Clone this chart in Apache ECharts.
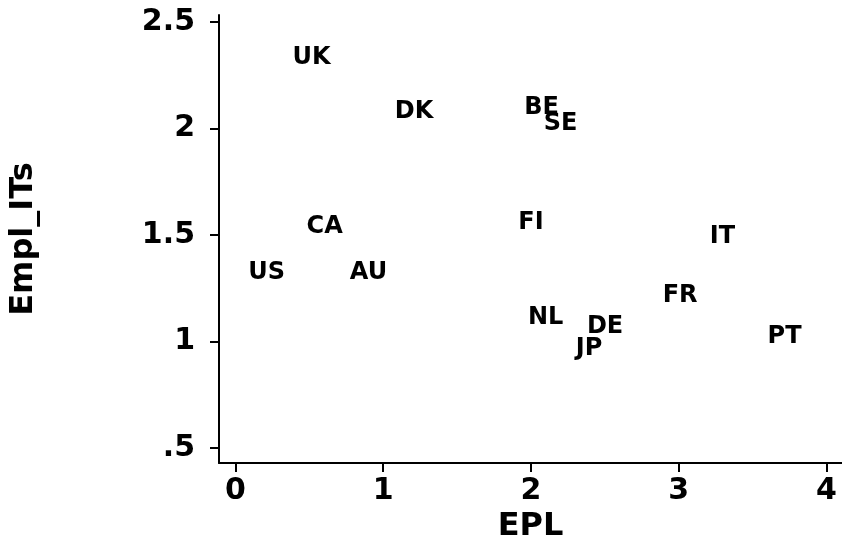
<!DOCTYPE html>
<html>
<head>
<meta charset="utf-8">
<script src="https://cdn.jsdelivr.net/npm/echarts@6/dist/echarts.min.js"></script>
<style>
html,body{margin:0;padding:0;background:#fff;}
#chart{width:842px;height:544px;}
</style>
</head>
<body>
<div id="chart"></div>
<script>
const countries = ['UK','DK','BE','SE','CA','FI','IT','US','AU','FR','NL','DE','JP','PT'];
const eplValues = [0.515,1.209,2.072,2.20,0.603,2.0,3.297,0.21,0.90,3.01,2.099,2.502,2.393,3.717];
const emplValues = [2.34,2.089,2.108,2.033,1.547,1.568,1.50,1.331,1.331,1.225,1.122,1.077,0.974,1.031];
const xTicks = [0,1,2,3,4];
const yTicks = [0.5,1,1.5,2,2.5];
const yTickLabels = ['.5','1','1.5','2','2.5'];

const font = 'DejaVu Sans';
const chart = echarts.init(document.getElementById('chart'));
const points = countries.map((c,i)=>({name:c, value:[eplValues[i], emplValues[i]]}));

chart.setOption({
  backgroundColor:'#fff',
  animation:false,
  grid:{left:219, right:0, top:15, bottom:81, containLabel:false, outerBoundsMode:'none'},
  xAxis:{
    type:'value', min:-0.112, max:4.106,
    name:'EPL', nameLocation:'middle', nameGap:46,
    nameTextStyle:{fontFamily:font, fontWeight:'bold', fontSize:32, color:'#000'},
    axisLine:{show:true, onZero:false, lineStyle:{color:'#000', width:2}},
    axisTick:{show:true, length:9, customValues:xTicks, lineStyle:{color:'#000', width:2}},
    axisLabel:{customValues:xTicks, margin:13, fontFamily:font, fontWeight:'bold', fontSize:30, color:'#000'},
    splitLine:{show:false}
  },
  yAxis:{
    type:'value', min:0.4296, max:2.533,
    name:'Empl_ITs', nameLocation:'middle', nameGap:179, nameRotate:90,
    nameTextStyle:{fontFamily:font, fontWeight:'bold', fontSize:32, color:'#000'},
    axisLine:{show:true, onZero:false, lineStyle:{color:'#000', width:2}},
    axisTick:{show:true, length:9, customValues:yTicks, lineStyle:{color:'#000', width:2}},
    axisLabel:{customValues:yTicks, margin:24, fontFamily:font, fontWeight:'bold', fontSize:30, color:'#000',
      formatter:function(v){ const i = yTicks.indexOf(v); return i>=0 ? yTickLabels[i] : String(v); }},
    splitLine:{show:false}
  },
  series:[{
    type:'scatter',
    data:points,
    symbolSize:1,
    itemStyle:{color:'#fff', opacity:1},
    label:{show:true, position:'inside', offset:[0,2], formatter:'{b}', fontFamily:font, fontWeight:'bold', fontSize:24, color:'#000', textBorderWidth:0},
    emphasis:{disabled:true}
  }]
});
</script>
</body>
</html>
